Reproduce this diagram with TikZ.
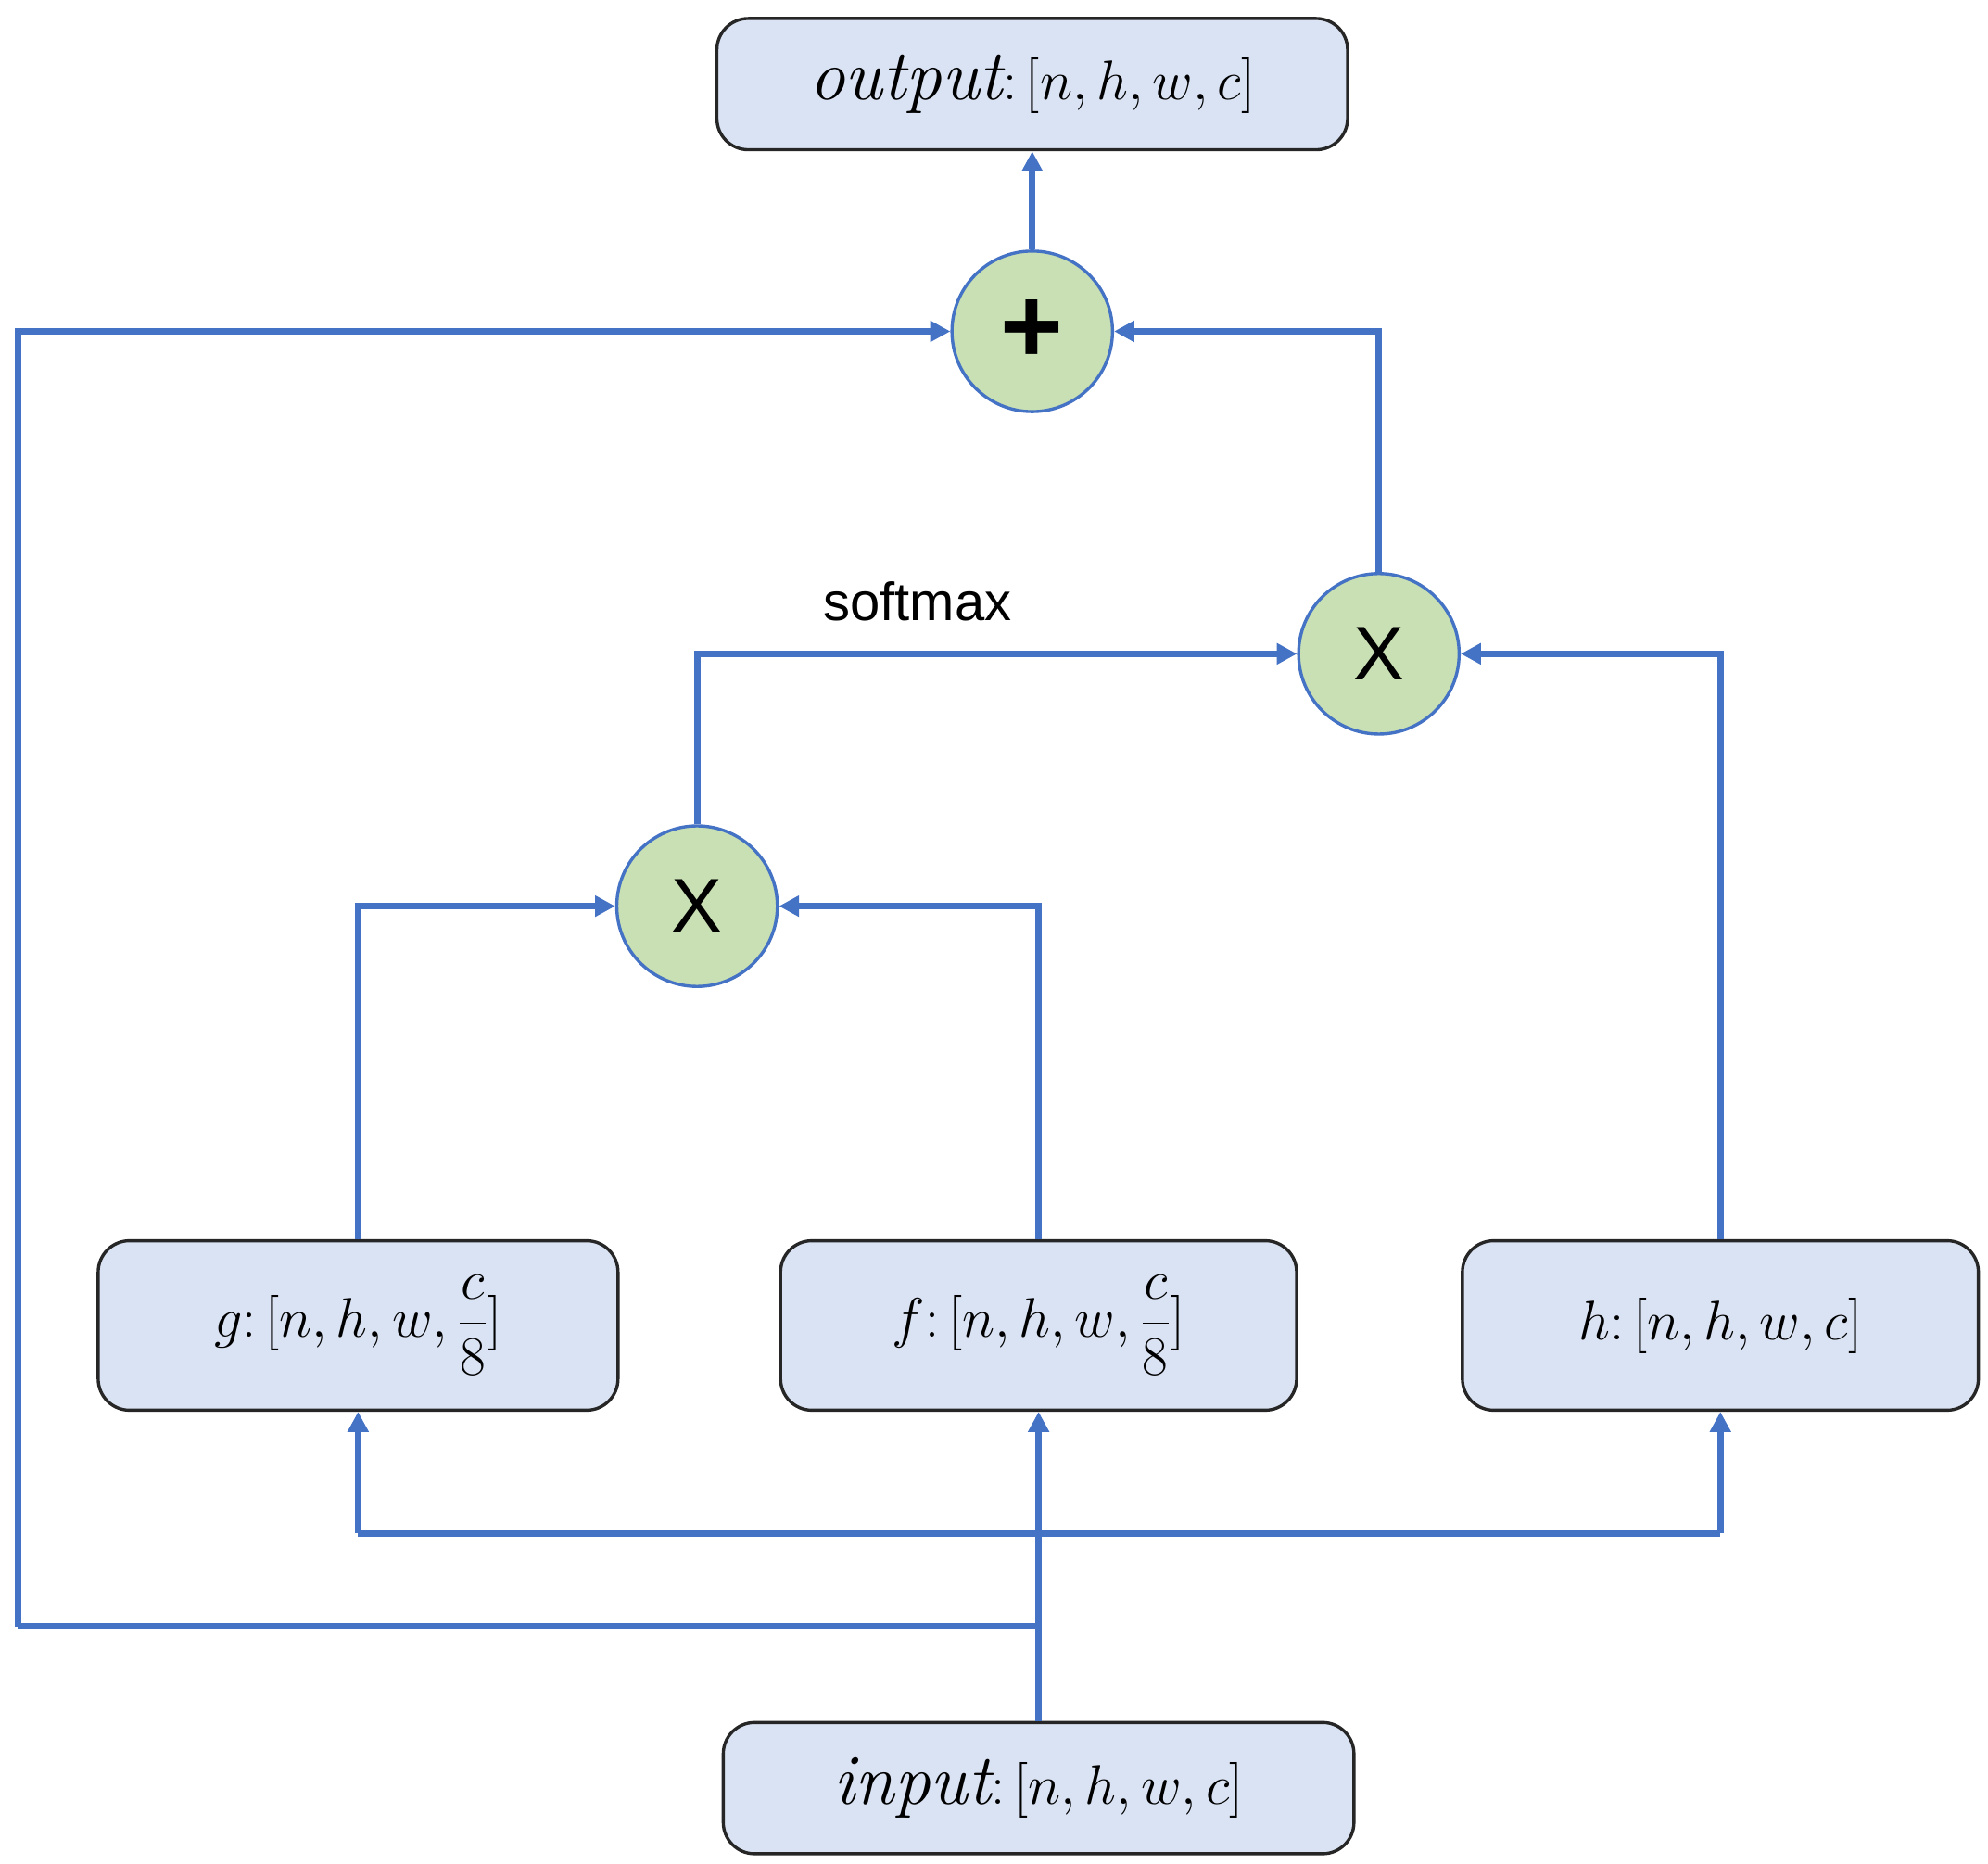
\documentclass[tikz,border=0pt]{standalone}
\usepackage{fontspec}
\newfontfamily\sanf{Liberation Sans}
\usetikzlibrary{arrows.meta}
\definecolor{ln}{HTML}{4472C4}
\definecolor{bx}{HTML}{DAE3F3}
\definecolor{gr}{HTML}{C9E0B4}
\begin{document}
\begin{tikzpicture}[x=0.02cm,y=-0.02cm,
  box/.style={draw=black!85,line width=1.4pt,rounded corners=14pt,fill=bx,minimum height=2.06cm,inner sep=0pt,font=\fontsize{32}{36}\selectfont},
  op/.style={circle,draw=ln,line width=1.4pt,fill=gr,minimum size=2.52cm,inner sep=0pt,font=\fontsize{34}{38}\selectfont\sanf},
  arr/.style={draw=ln,line width=2.8pt,-{Triangle[length=9pt,width=9pt]}},
  ln/.style={draw=ln,line width=2.8pt}]
\useasboundingbox (0,0) rectangle (1560,1462);
\node[box,minimum width=9.9cm] (out) at (810,66) {$\mathit{output}\colon[n,h,w,c]$};
\node[box,minimum width=9.9cm] (in) at (815,1403) {$\mathit{input}\colon[n,h,w,c]$};
\node[box,minimum width=8.16cm,minimum height=2.66cm] (g) at (281,1040) {$g\colon[n,h,w,\displaystyle\frac{c}{8}]$};
\node[box,minimum width=8.1cm,minimum height=2.66cm] (f) at (815,1040) {$f\colon[n,h,w,\displaystyle\frac{c}{8}]$};
\node[box,minimum width=8.1cm,minimum height=2.66cm] (h) at (1350,1040) {$h\colon[n,h,w,c]$};
\node[op,font=\fontsize{48}{50}\selectfont\bfseries\sanf] (p) at (810,260) {+};
\node[op] (x2) at (1082,513) {X};
\node[op] (x1) at (547,711) {X};
\node[font=\fontsize{24}{28}\selectfont\sanf] (sm) at (720,472) {softmax};
\coordinate (j1) at (815,1276);
\coordinate (j2) at (815,1203);
\coordinate (l1) at (14,1276);
\coordinate (l2) at (14,260);
\coordinate (b1) at (281,1203);
\coordinate (b2) at (1350,1203);
\draw[ln] (in.north) -- (j1);
\draw[arr] (j1) -- (f.south);
\draw[arr] (l1) -- (j1) (l1) -- (l2) -- (p.west);
\draw[ln] (b1) -- (b2);
\draw[arr] (b1) -- (g.south);
\draw[arr] (b2) -- (h.south);
\draw[arr] (g.north) |- (x1.west);
\draw[arr] (f.north) |- (x1.east);
\draw[arr] (x1.north) |- (x2.west);
\draw[arr] (h.north) |- (x2.east);
\draw[arr] (x2.north) |- (p.east);
\draw[arr] (p.north) -- (out.south);
\end{tikzpicture}
\end{document}
